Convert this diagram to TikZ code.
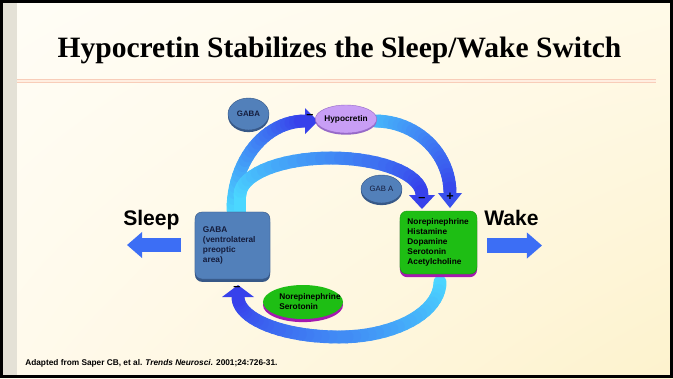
\documentclass[tikz,border=0pt]{standalone}
\usepackage{fontspec}
\setmainfont{Liberation Serif}
\setsansfont{Liberation Sans}
\usetikzlibrary{shapes.geometric, arrows.meta, shadings}

\definecolor{arcLight}{RGB}{75,215,255}
\definecolor{arcDark}{RGB}{55,65,235}
\definecolor{sideBlue}{RGB}{60,110,245}
\definecolor{gabaC}{RGB}{82,128,186}
\definecolor{gabaD}{RGB}{55,88,135}
\definecolor{navyT}{RGB}{20,28,60}
\definecolor{monoC}{RGB}{30,190,20}
\definecolor{monoD}{RGB}{165,25,175}
\definecolor{hcrtC}{RGB}{200,158,245}
\definecolor{hcrtD}{RGB}{150,105,200}
\definecolor{ruleC}{RGB}{248,205,185}
\definecolor{ruleIn}{RGB}{255,238,225}
\definecolor{stripC}{RGB}{228,225,214}
\definecolor{bgUL}{RGB}{255,253,246}
\definecolor{bgUR}{RGB}{255,250,232}
\definecolor{bgLL}{RGB}{255,250,236}
\definecolor{bgLR}{RGB}{253,242,205}

\begin{document}
\begin{tikzpicture}[x=0.025cm, y=-0.025cm,
		flow/.style={line width=9.2pt, line cap=round},
		side/.style={draw=sideBlue, line width=10pt, -{Triangle[length=10.7pt, width=17.8pt]}},
		lbl/.style={font=\sffamily\bfseries\fontsize{5.9}{7.1}\selectfont, text=black},
		sign/.style={font=\sffamily\bfseries\fontsize{9}{9}\selectfont, inner sep=0pt},
		cell/.style={ellipse, inner sep=0pt, fill=gabaC, draw=gabaD, line width=0.3pt,
			preaction={fill=gabaD, transform canvas={yshift=-1.5pt}}}]
		\useasboundingbox (0,0) rectangle (673,378);

		% slide background
		\shade[upper left=bgUL, upper right=bgUR, lower left=bgLL, lower right=bgLR]
			(0,0) rectangle (673,378);
		\fill[stripC] (3,3) rectangle (17,375);
		\draw[line width=2.2pt] (1.5,1.5) rectangle (671.5,376.5);

		\node[font=\rmfamily\bfseries\fontsize{21}{25}\selectfont, anchor=base] (title) at (339.5,57)
			{Hypocretin Stabilizes the Sleep/Wake Switch};
		\draw[draw=ruleC, line width=0.8pt, double=ruleIn, double distance=1.6pt] (17,81) -- (656,81);

		% loops
		\foreach \i in {0,...,23} {
			\pgfmathsetmacro\a{180+90*\i/24}
			\pgfmathsetmacro\b{180+90*(\i+1)/24}
			\pgfmathtruncatemacro\p{100*\i/23}
			\draw[flow, draw=arcDark!\p!arcLight] ({305+72*cos(\a)},{210+89*sin(\a)}) -- ({305+72*cos(\b)},{210+89*sin(\b)});
		}
		\draw[flow, draw=arcLight] (240,214) -- (240,195);
		\foreach \i in {0,...,29} {
			\pgfmathsetmacro\a{180+180*\i/30}
			\pgfmathsetmacro\b{180+180*(\i+1)/30}
			\pgfmathtruncatemacro\p{100*\i/29}
			\draw[flow, draw=arcDark!\p!arcLight] ({331+91*cos(\a)},{195+37*sin(\a)}) -- ({331+91*cos(\b)},{195+37*sin(\b)});
		}
		\foreach \i in {0,...,23} {
			\pgfmathsetmacro\a{270+90*\i/24}
			\pgfmathsetmacro\b{270+90*(\i+1)/24}
			\pgfmathtruncatemacro\p{20+75*\i/23}
			\draw[flow, draw=arcDark!\p!arcLight] ({375+75*cos(\a)},{193+72*sin(\a)}) -- ({375+75*cos(\b)},{193+72*sin(\b)});
		}
		\foreach \i in {0,...,19} {
			\pgfmathsetmacro\a{90*\i/20}
			\pgfmathsetmacro\b{90*(\i+1)/20}
			\pgfmathtruncatemacro\p{50*\i/19}
			\draw[flow, draw=arcDark!\p!arcLight] ({339+101*cos(\a)},{282+55*sin(\a)}) -- ({339+101*cos(\b)},{282+55*sin(\b)});
		}
		\foreach \i in {0,...,19} {
			\pgfmathsetmacro\a{90+90*\i/20}
			\pgfmathsetmacro\b{90+90*(\i+1)/20}
			\pgfmathtruncatemacro\p{50+50*\i/19}
			\draw[flow, draw=arcDark!\p!arcLight] ({339+101*cos(\a)},{297+40*sin(\a)}) -- ({339+101*cos(\b)},{297+40*sin(\b)});
		}

		% arrow heads
		\fill[arcDark] (305,108) -- (318,121) -- (305,134) -- cycle;
		\fill[arcDark!90!arcLight] (438,193) -- (450,208) -- (462,193) -- cycle;
		\fill[arcDark] (409,195) -- (422,209) -- (435,195) -- cycle;
		\fill[arcDark] (222,297) -- (238,285) -- (254,297) -- cycle;

		% nodes
		\node[cell, minimum width=1.025cm, minimum height=0.8cm, lbl, font=\sffamily\bfseries\fontsize{5.6}{6.5}\selectfont, text=navyT]
			(gabaTop) at (248.5,114) {GABA};
		\node[cell, minimum width=1.025cm, minimum height=0.7cm, font=\sffamily\fontsize{5.5}{6.5}\selectfont, text=navyT]
			(gabaA) at (381.5,189) {GAB A};
		\node[ellipse, inner sep=0pt, fill=hcrtC, draw=hcrtD, line width=0.3pt,
			preaction={fill=hcrtD, transform canvas={yshift=-1.2pt}},
			minimum width=1.45cm, minimum height=0.7cm, lbl] (hcrt) at (346,119) {Hypocretin};
		\node[rectangle, rounded corners=5pt, fill=gabaC, draw=gabaD, line width=0.3pt,
			preaction={fill=gabaD, transform canvas={yshift=-2pt}},
			minimum width=1.875cm, minimum height=1.675cm, text width=1.475cm, align=left,
			lbl, text=navyT] (gabaBox) at (232.5,245.5) {GABA\\(ventrolateral\\preoptic\\area)};
		\node[rectangle, rounded corners=5pt, fill=monoC, draw=monoC!80!black, line width=0.3pt,
			preaction={fill=monoD, transform canvas={yshift=-2.2pt}},
			minimum width=1.925cm, minimum height=1.575cm, text width=1.55cm, align=left,
			lbl] (monoBox) at (438.5,242.5) {Norepinephrine\\Histamine\\Dopamine\\Serotonin\\Acetylcholine};
		\node[ellipse, inner sep=0pt, fill=monoC, preaction={fill=monoD, transform canvas={yshift=-2.2pt}},
			minimum width=2cm, minimum height=0.85cm,
			label={[lbl, align=left, xshift=0.175cm]center:{Norepinephrine\\Serotonin}}] (neSer) at (303,302) {};

		% signs
		\node[sign] (mHcrt) at (310,116) {--};
		\node[sign] (mInner) at (422,199) {--};
		\node[sign] (pOuter) at (450,197) {+};
		\node[sign] (mBottom) at (237,288) {--};

		% sleep and wake
		\node[font=\sffamily\bfseries\fontsize{15}{18}\selectfont, anchor=base west, inner sep=0pt] (sleep) at (123,225) {Sleep};
		\node[font=\sffamily\bfseries\fontsize{15}{18}\selectfont, anchor=base west, inner sep=0pt] (wake) at (484,225) {Wake};
		\coordinate (sleepFrom) at (181,245);
		\coordinate (sleepTo) at (127,245);
		\coordinate (wakeFrom) at (487,245.5);
		\coordinate (wakeTo) at (542,245.5);
		\draw[side] (sleepFrom) -- (sleepTo);
		\draw[side] (wakeFrom) -- (wakeTo);

		\node[font=\sffamily\bfseries\fontsize{5.9}{7}\selectfont, anchor=base west, inner sep=0pt] (cite) at (25,365)
			{Adapted from Saper CB, et al. \textit{Trends Neurosci.} 2001;24:726-31.};
	\end{tikzpicture}
\end{document}
